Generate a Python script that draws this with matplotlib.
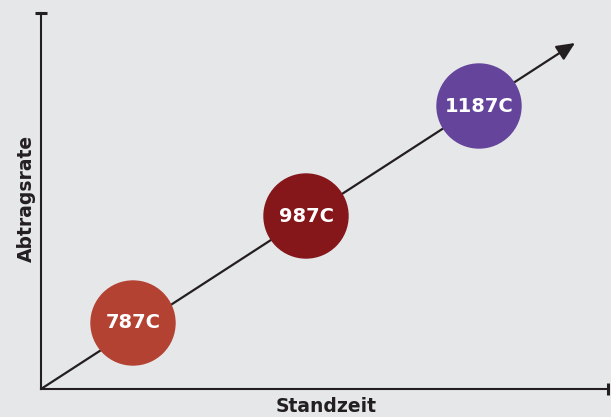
import matplotlib
matplotlib.use("Agg")
import matplotlib.pyplot as plt
from matplotlib.patches import Circle

# data (pixel-like units, origin at axis corner)
labels = ["787C", "987C", "1187C"]
cx = [92, 265, 438]
cy = [66, 173, 283]
colors = ["#b34232", "#85161a", "#65449b"]
radius = 42
arrow_end = (534, 346)
bg = "#e6e7e8"
dark = "#231f20"

fig = plt.figure(figsize=(6.11, 4.17), dpi=100, facecolor=bg)
ax = fig.add_axes([41/611, 28/417, 567/611, 376/417])
ax.set_facecolor(bg)
ax.set_xlim(0, 567)
ax.set_ylim(0, 376)
ax.set_aspect("equal")

for s in ["top", "right"]:
    ax.spines[s].set_visible(False)
for s in ["left", "bottom"]:
    ax.spines[s].set_color(dark)
    ax.spines[s].set_linewidth(1.5)
ax.set_xticks([])
ax.set_yticks([])

# end caps
ax.plot([0], [376], marker="_", ms=9, mew=2.2, color=dark, clip_on=False)
ax.plot([567], [0], marker="|", ms=8, mew=2.2, color=dark, clip_on=False)

# arrow
ax.annotate("", xy=arrow_end, xytext=(0, 0),
            arrowprops=dict(arrowstyle="-|>,head_length=1.1,head_width=0.5",
                            color=dark, lw=1.6, shrinkA=0, shrinkB=0))

for x, y, c, t in zip(cx, cy, colors, labels):
    ax.add_patch(Circle((x, y), radius, color=c, zorder=3))
    ax.text(x, y, t, color="white", fontsize=14, fontweight="bold",
            ha="center", va="center", zorder=4)

fig.text(326/611, 1 - 406/417, "Standzeit", fontsize=13.5, fontweight="bold",
         color=dark, ha="center", va="center")
fig.text(26/611, 1 - 198/417, "Abtragsrate", fontsize=13.5, fontweight="bold",
         color=dark, ha="center", va="center", rotation=90)

fig.savefig("out.png", dpi=100, facecolor=bg)
